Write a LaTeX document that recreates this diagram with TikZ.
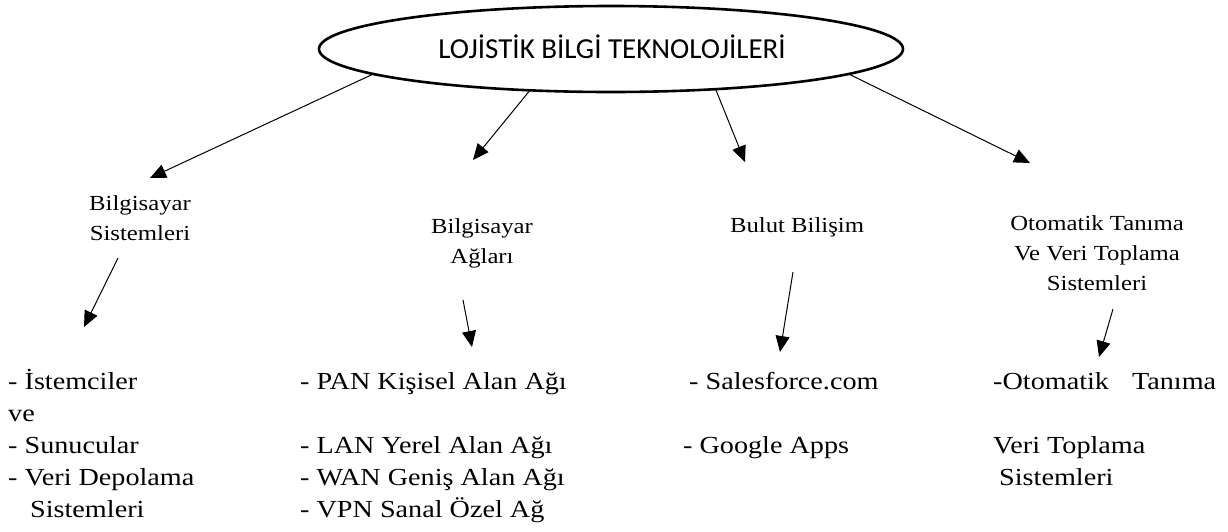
\documentclass[tikz,border=0pt]{standalone}
\usepackage{fontspec}
\setmainfont{Liberation Serif}[FakeStretch=1.15]
\newfontfamily\titlefont{Carlito}
\usetikzlibrary{shapes.geometric,arrows.meta}
\begin{document}
\begin{tikzpicture}[x=1pt,y=-1pt,
  lbl/.style={inner sep=0pt,align=center,font=\fontsize{21.5}{30}\selectfont},
  lst/.style={inner sep=0pt,align=left,anchor=base west,font=\fontsize{24.5}{32}\selectfont},
  arr/.style={line width=1pt,-{Triangle[length=16pt,width=14pt]}}]
\useasboundingbox (0,0) rectangle (1228,531);
\node[ellipse,draw,line width=2.6pt,minimum width=584pt,minimum height=86pt,inner sep=0pt,outer sep=0pt,
  font=\titlefont\fontsize{29}{32}\selectfont] (title) at (611,49) {};
\node[inner sep=0pt,font=\titlefont\fontsize{29}{32}\selectfont] (ttext) at (612,47) {LOJİSTİK BİLGİ TEKNOLOJİLERİ};
% level 1 labels
\node[lbl] (l1) at (140,218) {Bilgisayar\\Sistemleri};
\node[lbl] (l2) at (482,243) {Bilgisayar\\Ağları};
\node[lbl] (l3) at (797,227) {Bulut Bilişim};
\node[lbl] (l4) at (1097,253) {Otomatik Tanıma\\Ve Veri Toplama\\Sistemleri};
% arrow tips
\coordinate (t1) at (150,178);
\coordinate (t2) at (473,160);
\coordinate (t3) at (745,162);
\coordinate (t4) at (1030,163);
\draw[arr] (title.186.7) -- (t1);
\draw[arr] (title.207.6) -- (t2);
\draw[arr] (title.339.9) -- (t3);
\draw[arr] (title.354.3) -- (t4);
% lists
\node[lst] (m1) at (8,517) {- İstemciler\\ve\\- Sunucular\\- Veri Depolama\\\hspace*{22pt}Sistemleri};
\node[lst] (m2) at (300,517) {- PAN Kişisel Alan Ağı\\[32pt]- LAN Yerel Alan Ağı\\- WAN Geniş Alan Ağı\\- VPN Sanal Özel Ağ};
\node[lst] (m3) at (689,389) {- Salesforce.com};
\node[lst] (m3b) at (683,453) {- Google Apps};
\node[lst] (m4) at (993,389) {-Otomatik\hspace{16pt} Tanıma};
\node[lst] (m4b) at (993,485) {Veri Toplama\\\hspace*{6pt}Sistemleri};
% second-level arrows
\coordinate (s1) at (118,258);
\coordinate (s2) at (463,300);
\coordinate (s3) at (793,272);
\coordinate (s4) at (1113,309);
\coordinate (u1) at (84,327);
\coordinate (u2) at (472,347);
\coordinate (u3) at (780,352);
\coordinate (u4) at (1099,357);
\draw[arr] (s1) -- (u1);
\draw[arr] (s2) -- (u2);
\draw[arr] (s3) -- (u3);
\draw[arr] (s4) -- (u4);
\end{tikzpicture}
\end{document}
